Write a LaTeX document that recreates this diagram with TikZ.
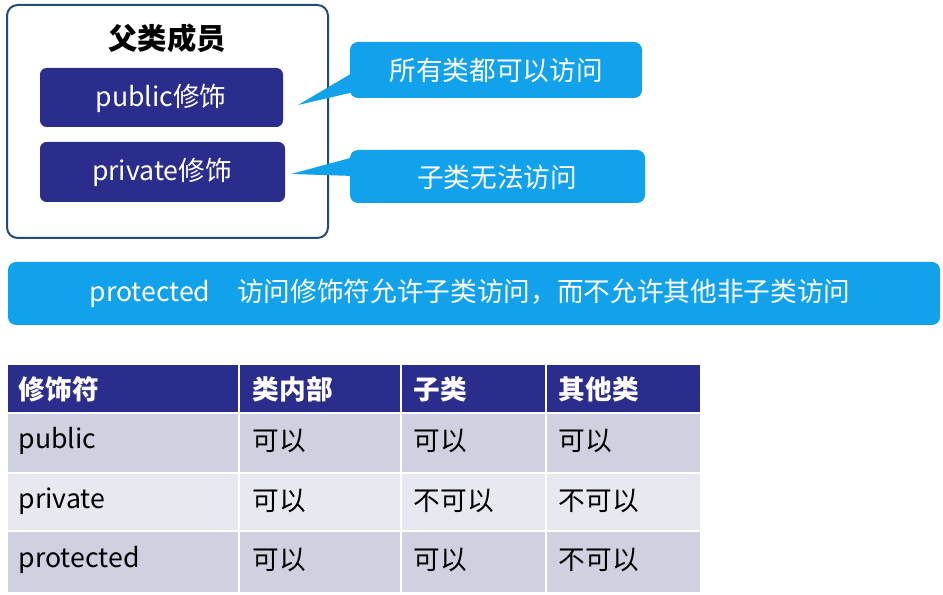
\documentclass[tikz,border=0pt]{standalone}
\usepackage{fontspec}
\setmainfont{Noto Sans CJK SC}
\definecolor{navy}{HTML}{2B2D8C}
\definecolor{frame}{HTML}{1F4E79}
\definecolor{sky}{HTML}{12A2EC}
\definecolor{rowA}{HTML}{CFD1E0}
\definecolor{rowB}{HTML}{E8E9F0}
\tikzset{
 darkbox/.style={draw=none,fill=navy,rounded corners=5pt,text=white,font=\fontsize{20}{24}\selectfont},
 bluebox/.style={draw=none,fill=sky,rounded corners=6pt,text=white,font=\fontsize{20}{24}\selectfont},
 cell/.style={anchor=west,font=\fontsize{20}{24}\selectfont},
 hcell/.style={anchor=west,font=\bfseries\fontsize{20}{24}\selectfont,text=white},
}
\begin{document}
\begin{tikzpicture}[x=0.75pt,y=-0.75pt]
\useasboundingbox[fill=white] (0,0) rectangle (943,595);
\draw[frame,line width=1.5pt,rounded corners=8pt,fill=white] (7,5) rectangle (328,238);
\node[font=\bfseries\fontsize{22}{26}\selectfont] (title) at (167,38) {父类成员};
\path[darkbox] (40,68) rectangle (283,127);
\node[text=white,font=\fontsize{20}{24}\selectfont] (pub) at (161,98) {public修饰};
\path[darkbox] (40,142) rectangle (285,202);
\node[text=white,font=\fontsize{20}{24}\selectfont] (pri) at (162,172) {private修饰};
% callouts
\fill[sky] (354,72) -- (298,105) -- (354,92) -- cycle;
\fill[sky,rounded corners=6pt] (350,42) rectangle (642,98);
\node[text=white,font=\fontsize{20}{24}\selectfont] (c1) at (496,70) {所有类都可以访问};
\fill[sky] (354,157) -- (291,174) -- (354,176) -- cycle;
\fill[sky,rounded corners=6pt] (350,150) rectangle (645,203);
\node[text=white,font=\fontsize{20}{24}\selectfont] (c2) at (497,177) {子类无法访问};
% banner
\fill[sky,rounded corners=6pt] (8,262) rectangle (940,325);
\node[text=white,font=\fontsize{20}{24}\selectfont] (ban) at (470,293) {protected\hspace{1em}访问修饰符允许子类访问，而不允许其他非子类访问};
% table
\fill[navy] (8,365) rectangle (700,412);
\fill[rowA] (8,414) rectangle (700,472);
\fill[rowB] (8,474) rectangle (700,530);
\fill[rowA] (8,532) rectangle (700,592);
\foreach \x in {239,401,546}{\draw[white,line width=1.5pt] (\x,365) -- (\x,592);}
\draw[white,line width=1.5pt] (8,413) -- (700,413) (8,473) -- (700,473) (8,531) -- (700,531);
\node[hcell] (h1) at (14,389) {修饰符};
\node[hcell] (h2) at (248,389) {类内部};
\node[hcell] (h3) at (409,389) {子类};
\node[hcell] (h4) at (554,389) {其他类};
\node[cell] (r1) at (14,441) {public};
\node[cell] (r1a) at (248,441) {可以};
\node[cell] (r1b) at (409,441) {可以};
\node[cell] (r1c) at (554,441) {可以};
\node[cell] (r2) at (14,501) {private};
\node[cell] (r2a) at (248,501) {可以};
\node[cell] (r2b) at (409,501) {不可以};
\node[cell] (r2c) at (554,501) {不可以};
\node[cell] (r3) at (14,560) {protected};
\node[cell] (r3a) at (248,560) {可以};
\node[cell] (r3b) at (409,560) {可以};
\node[cell] (r3c) at (554,560) {不可以};
\end{tikzpicture}
\end{document}
